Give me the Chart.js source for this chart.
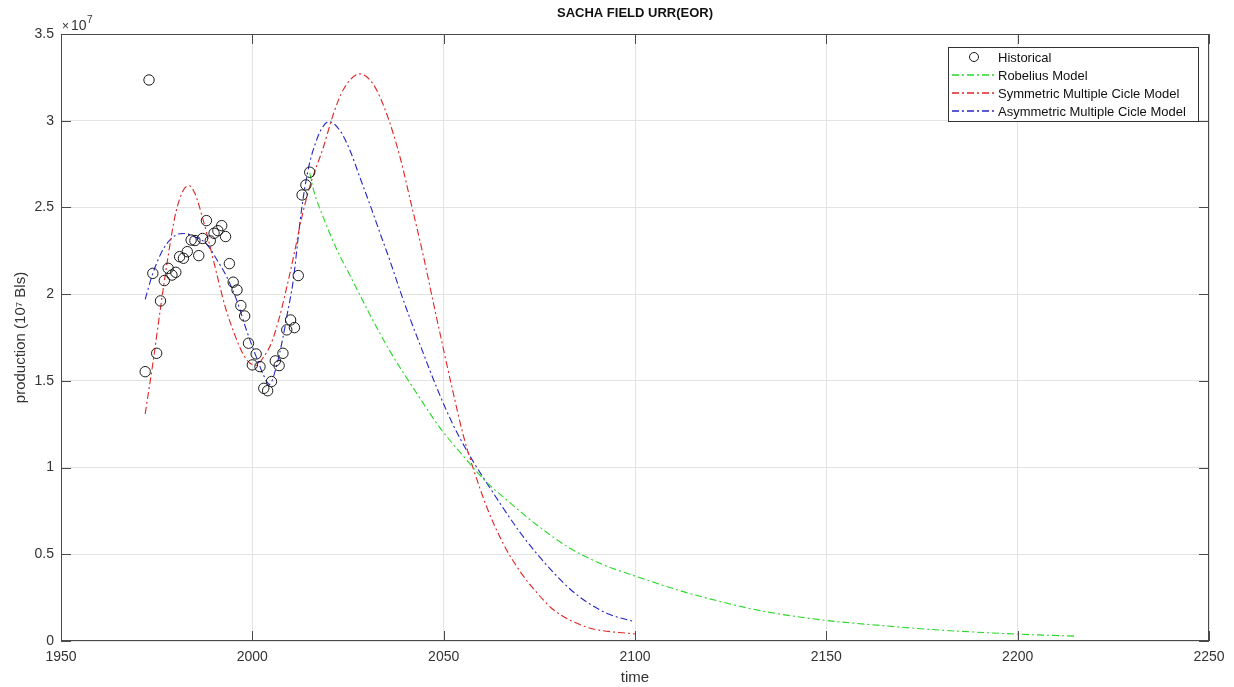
<!doctype html>
<html lang="en">
<head>
<meta charset="utf-8">
<title>SACHA FIELD URR(EOR)</title>
<script src="https://cdn.jsdelivr.net/npm/chart.js@4.4.0/dist/chart.umd.min.js"></script>
<style>
  html, body { margin: 0; padding: 0; background: #fff; }
  #wrap { width: 1234px; height: 687px; }
</style>
</head>
<body>
<div id="wrap"><canvas id="c" width="1234" height="687"></canvas></div>
<script>
// values are in units of 10^7 Bls (axis shows the x10^7 factor)

const histYears = [1972, 1973, 1974, 1975, 1976, 1977, 1978, 1979, 1980, 1981, 1982,
  1983, 1984, 1985, 1986, 1987, 1988, 1989, 1990, 1991, 1992, 1993, 1994, 1995, 1996,
  1997, 1998, 1999, 2000, 2001, 2002, 2003, 2004, 2005, 2006, 2007, 2008, 2009, 2010,
  2011, 2012, 2013, 2014, 2015];
const histValues = [1.553, 3.235, 2.12, 1.659, 1.961, 2.078, 2.149, 2.11, 2.126, 2.216, 2.207,
  2.245, 2.312, 2.309, 2.222, 2.321, 2.424, 2.307, 2.351, 2.366, 2.395, 2.332, 2.176, 2.069, 2.024,
  1.934, 1.874, 1.717, 1.592, 1.655, 1.582, 1.457, 1.443, 1.496, 1.615, 1.588, 1.659, 1.794, 1.851,
  1.807, 2.107, 2.572, 2.630, 2.703];

const robYears  = [2015, 2016, 2018.6, 2022, 2025, 2028, 2031, 2036, 2043.8, 2049, 2055, 2061,
  2065.6, 2074.3, 2083, 2091.7, 2100, 2111.8, 2122.2, 2132.7, 2149.4, 2164, 2179.7, 2199.6, 2215];
const robValues = [2.70, 2.60, 2.44, 2.26, 2.13, 2.00, 1.87, 1.67, 1.40, 1.23, 1.07, 0.92,
  0.83, 0.67, 0.535, 0.44, 0.375, 0.29, 0.228, 0.175, 0.12, 0.09, 0.063, 0.04, 0.028];

const symYears  = [1972, 1974, 1976, 1978, 1980, 1982, 1983.5, 1985, 1987, 1989, 1991, 1993,
  1995, 1997, 1999, 2001, 2003, 2005, 2007, 2009, 2011, 2013, 2015, 2018.6, 2021.2, 2023.8,
  2028.1, 2031.6, 2035.1, 2038.6, 2041.2, 2044.7, 2047.8, 2052.5, 2055.2, 2057.8, 2061.3,
  2065.6, 2070, 2074.3, 2078.7, 2087.4, 2100];
const symValues = [1.31, 1.60, 1.92, 2.22, 2.47, 2.60, 2.625, 2.58, 2.44, 2.27, 2.09, 1.92,
  1.79, 1.68, 1.61, 1.59, 1.64, 1.72, 1.86, 2.04, 2.24, 2.45, 2.62, 2.85, 3.04, 3.18,
  3.27, 3.21, 3.04, 2.79, 2.55, 2.22, 1.90, 1.43, 1.18, 0.99, 0.77,
  0.56, 0.40, 0.28, 0.18, 0.08, 0.04];

const asymYears  = [1972, 1974, 1977, 1980, 1982, 1985, 1988, 1990.7, 1993.3, 1996, 1998.5,
  2001, 2003, 2004.5, 2006, 2008, 2009, 2010.7, 2012, 2013, 2014, 2015, 2016.5, 2018, 2020,
  2023, 2025.5, 2028, 2031, 2033.4, 2036, 2038.6, 2041.2, 2043.8, 2048.2, 2052.5, 2056.9,
  2061.3, 2065.6, 2070, 2074.3, 2078.7, 2083, 2087.4, 2092.6, 2100];
const asymValues = [1.97, 2.12, 2.27, 2.34, 2.35, 2.33, 2.29, 2.20, 2.10, 1.96, 1.79,
  1.64, 1.53, 1.48, 1.56, 1.75, 1.87, 2.08, 2.33, 2.51, 2.65, 2.76, 2.87, 2.95, 2.995,
  2.94, 2.83, 2.68, 2.50, 2.35, 2.19, 2.02, 1.86, 1.71, 1.46, 1.245, 1.065,
  0.91, 0.765, 0.625, 0.505, 0.395, 0.30, 0.225, 0.16, 0.11];

const xTicks = [1950, 2000, 2050, 2100, 2150, 2200, 2250];
const yTicks = [0, 0.5, 1, 1.5, 2, 2.5, 3, 3.5];

const FONT = 'Arial, "Liberation Sans", Helvetica, sans-serif';
const AXIS = '#4a4a4a';
const TXT  = '#333333';
const DASHDOT = [7, 3, 2, 3];

function pts(xs, ys) {
  return xs.map((x, i) => ({ x: x, y: ys[i] }));
}

function lineSet(label, xs, ys, color) {
  return {
    label: label,
    data: pts(xs, ys),
    borderColor: color,
    borderWidth: 1.1,
    borderDash: DASHDOT,
    pointRadius: 0,
    fill: false,
    cubicInterpolationMode: 'monotone',
  };
}

// box, inward ticks, title, x10^7 and legend
const decor = {
  id: 'decor',
  afterDraw(chart) {
    const ctx = chart.ctx;
    const a = chart.chartArea;
    const sx = chart.scales.x, sy = chart.scales.y;
    ctx.save();

    ctx.strokeStyle = AXIS;
    ctx.lineWidth = 1;
    ctx.setLineDash([]);
    ctx.strokeRect(a.left + 0.5, a.top + 0.5, a.right - a.left - 1, a.bottom - a.top - 1);

    ctx.beginPath();
    xTicks.forEach(v => {
      const px = Math.round(sx.getPixelForValue(v)) + 0.5;
      ctx.moveTo(px, a.bottom); ctx.lineTo(px, a.bottom - 10);
      ctx.moveTo(px, a.top);    ctx.lineTo(px, a.top + 10);
    });
    yTicks.forEach(v => {
      const py = Math.round(sy.getPixelForValue(v)) + 0.5;
      ctx.moveTo(a.left, py);  ctx.lineTo(a.left + 10, py);
      ctx.moveTo(a.right, py); ctx.lineTo(a.right - 10, py);
    });
    ctx.stroke();

    // title
    ctx.fillStyle = '#111';
    ctx.font = 'bold 13px ' + FONT;
    ctx.textAlign = 'center';
    ctx.textBaseline = 'middle';
    ctx.fillText('SACHA FIELD URR(EOR)', (a.left + a.right) / 2, 13);

    // exponent label
    ctx.fillStyle = TXT;
    ctx.textAlign = 'left';
    ctx.font = '12px ' + FONT;
    ctx.fillText('\u00d7', 62, 27);
    ctx.font = '14px ' + FONT;
    ctx.fillText('10', 71, 26);
    ctx.font = '10px ' + FONT;
    ctx.fillText('7', 87, 20);

    // legend
    const bx = 948, by = 47, bw = 250, bh = 74;
    ctx.fillStyle = '#fff';
    ctx.fillRect(bx, by, bw, bh);
    ctx.strokeStyle = '#333';
    ctx.strokeRect(bx + 0.5, by + 0.5, bw, bh);
    ctx.font = '13px ' + FONT;
    chart.data.datasets.forEach((ds, i) => {
      const y = 57 + i * 18;
      if (ds.showLine === false) {
        ctx.setLineDash([]);
        ctx.lineWidth = 1;
        ctx.strokeStyle = ds.pointBorderColor;
        ctx.beginPath();
        ctx.arc(974, y, 4.5, 0, Math.PI * 2);
        ctx.stroke();
      } else {
        ctx.setLineDash(DASHDOT);
        ctx.lineWidth = 1.5;
        ctx.strokeStyle = ds.borderColor;
        ctx.beginPath();
        ctx.moveTo(952, y); ctx.lineTo(995, y);
        ctx.stroke();
      }
      ctx.fillStyle = '#111';
      ctx.fillText(ds.label, 998, y + 1);
    });
    ctx.restore();
  }
};

new Chart(document.getElementById('c'), {
  type: 'line',
  data: {
    datasets: [
      {
        label: 'Historical',
        data: pts(histYears, histValues),
        showLine: false,
        pointRadius: 5.2,
        pointHoverRadius: 5.2,
        pointBorderWidth: 1,
        pointBorderColor: '#1a1a1a',
        pointBackgroundColor: 'rgba(0,0,0,0)',
      },
      lineSet('Robelius Model', robYears, robValues, '#27d827'),
      lineSet('Symmetric Multiple Cicle Model', symYears, symValues, '#e02424'),
      lineSet('Asymmetric Multiple Cicle Model', asymYears, asymValues, '#2424c8'),
    ]
  },
  options: {
    responsive: false,
    animation: false,
    devicePixelRatio: 1,
    layout: { padding: { top: 34, right: 25, bottom: 0, left: 0 } },
    plugins: {
      legend: { display: false },
      title: { display: false },
      tooltip: { enabled: false },
    },
    scales: {
      x: {
        type: 'linear',
        min: 1950, max: 2250,
        afterBuildTicks: s => { s.ticks = xTicks.map(v => ({ value: v })); },
        afterFit: s => { s.height = 46; },
        ticks: {
          callback: v => String(v),
          font: { family: FONT, size: 14 },
          color: TXT,
          padding: 8,
          maxRotation: 0,
        },
        grid: { color: '#e3e3e3', drawTicks: false },
        border: { display: false },
        title: {
          display: true, text: 'time',
          font: { family: FONT, size: 15 }, color: TXT,
          padding: { top: 0, bottom: 0 },
        },
      },
      y: {
        min: 0, max: 3.5,
        afterBuildTicks: s => { s.ticks = yTicks.map(v => ({ value: v })); },
        afterFit: s => { s.width = 61; },
        ticks: {
          callback: v => String(v),
          font: { family: FONT, size: 14 },
          color: TXT,
          padding: 7,
        },
        grid: { color: '#e3e3e3', drawTicks: false },
        border: { display: false },
        title: {
          display: true, text: 'production (10\u2077 Bls)',
          font: { family: FONT, size: 15 }, color: TXT,
          padding: { top: 12, bottom: 0 },
        },
      },
    },
  },
  plugins: [decor],
});
</script>
</body>
</html>
